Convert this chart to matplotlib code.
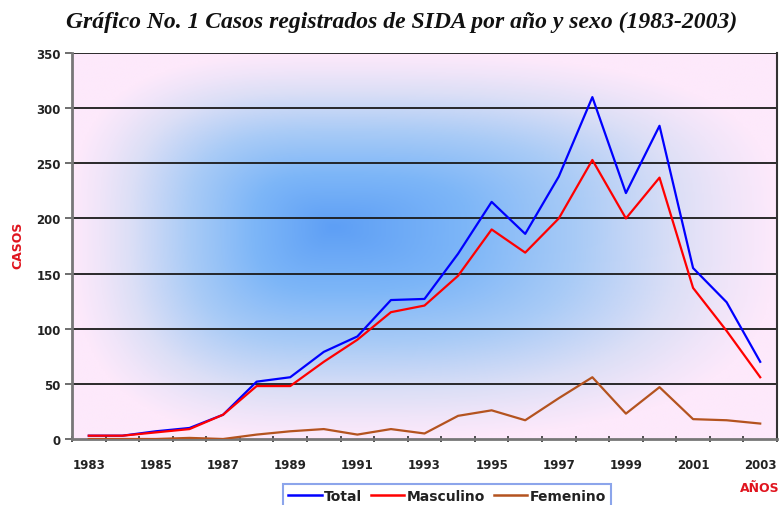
import numpy as np
import matplotlib.pyplot as plt
from matplotlib.colors import LinearSegmentedColormap
from matplotlib.lines import Line2D

years = list(range(1983, 2004))
total = [3, 3, 7, 10, 22, 52, 56, 79, 93, 126, 127, 168, 215, 186, 238, 310, 223, 284, 155, 124, 70]
masculino = [3, 3, 6, 9, 22, 48, 48, 70, 90, 115, 121, 148, 190, 169, 200, 253, 200, 237, 137, 98, 56]
femenino = [0, 0, 0, 1, 0, 4, 7, 9, 4, 9, 5, 21, 26, 17, 37, 56, 23, 47, 18, 17, 14]
year_labels = [str(y) for y in range(1983, 2004, 2)]

fig = plt.figure(figsize=(7.79, 5.06), dpi=100)
ax = fig.add_axes([72 / 779, 66 / 506, 705 / 779, 386 / 506])

# "from center" fill like the spreadsheet plot area (soft rectangle)
cmap = LinearSegmentedColormap.from_list(
    "bg", [(0, "#5e9ff5"), (0.3, "#7db6f8"), (0.55, "#a9cbf6"),
           (0.78, "#dcdff6"), (0.9, "#f0e5f9"), (1, "#fde9fb")])
gx, gy = np.meshgrid(np.linspace(0, 1, 400), np.linspace(0, 1, 300))
cx, cy = 0.37, 0.55
dx = np.where(gx < cx, (cx - gx) / cx, (gx - cx) / (1 - cx))
dy = np.where(gy < cy, (cy - gy) / cy, (gy - cy) / (1 - cy))
d = (dx ** 3 + dy ** 3) ** (1 / 3)
d = np.clip(d, 0, 1)
ax.imshow(d, cmap=cmap, extent=[0, 1, 0, 1], origin="lower",
          transform=ax.transAxes, aspect="auto", zorder=0, interpolation="bilinear")

x = np.arange(len(years))
ax.set_xlim(-0.5, len(years) - 0.5)
ax.set_ylim(0, 350)

for yv in range(50, 351, 50):
    ax.axhline(yv, color="#1a1a1a", lw=1.3, zorder=1)

ax.plot(x, total, color="#0000ff", lw=1.6, zorder=3, label="Total")
ax.plot(x, masculino, color="#ff0000", lw=1.6, zorder=3, label="Masculino")
ax.plot(x, femenino, color="#b4531f", lw=1.6, zorder=3, label="Femenino")

ax.set_yticks(range(0, 351, 50))
ax.set_xticks(x[::2])
ax.set_xticklabels(year_labels)
ax.set_xticks(np.arange(-0.5, len(years), 1), minor=True)
ax.tick_params(axis="x", which="major", length=0, pad=14)
ax.tick_params(axis="x", which="minor", length=4, width=1.2, color="#333333", direction="inout")
ax.tick_params(axis="y", length=5, width=1.2, color="#555555", pad=3)
for lab in ax.get_xticklabels() + ax.get_yticklabels():
    lab.set_fontsize(8.5)
    lab.set_fontweight("bold")
    lab.set_color("#222222")

for s in ["left", "bottom"]:
    ax.spines[s].set_color("#777777")
    ax.spines[s].set_linewidth(2)
ax.spines["top"].set_visible(False)
ax.spines["right"].set_color("#333333")
ax.spines["right"].set_linewidth(1.5)

fig.text(0.515, 0.955, "Gráfico No. 1 Casos registrados de SIDA por año y sexo (1983-2003)",
         ha="center", va="center", fontsize=17, fontweight="bold", fontstyle="italic",
         family="Liberation Serif", color="#111111")
fig.text(0.023, 0.515, "CASOS", rotation=90, ha="center", va="center",
         fontsize=9, fontweight="bold", color="#e0141e")
fig.text(0.975, 0.035, "AÑOS", ha="center", va="center",
         fontsize=9, fontweight="bold", color="#e0141e")

handles = [Line2D([], [], color="#0000ff", lw=1.8),
           Line2D([], [], color="#ff0000", lw=1.8),
           Line2D([], [], color="#b4531f", lw=1.8)]
leg = fig.legend(handles, ["Total", "Masculino", "Femenino"], loc="center",
                 bbox_to_anchor=(0.574, 0.018), ncol=3, frameon=True, fancybox=False,
                 fontsize=10, handlelength=2.4, handletextpad=0.2, columnspacing=0.6,
                 borderpad=0.35)
leg.get_frame().set_edgecolor("#6f8fe6")
leg.get_frame().set_linewidth(1.5)
for t in leg.get_texts():
    t.set_fontweight("bold")
    t.set_color("#222222")

fig.savefig("out.png", dpi=100)
